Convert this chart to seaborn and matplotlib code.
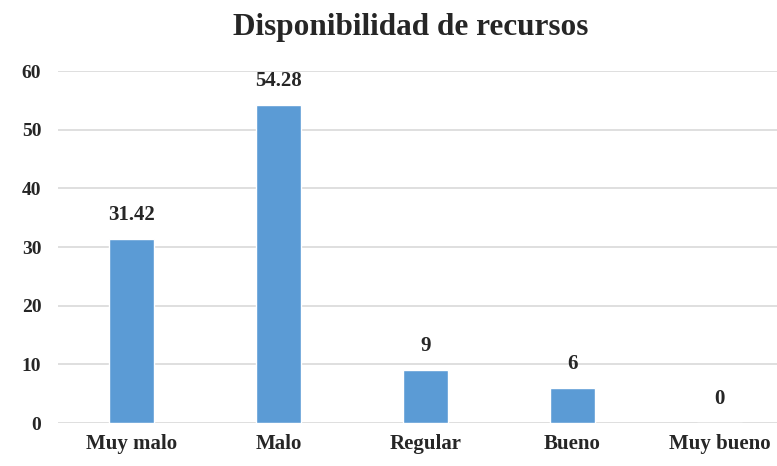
import matplotlib
matplotlib.use("Agg")
import matplotlib.pyplot as plt
import seaborn as sns
import pandas as pd

categorias = ["Muy malo", "Malo", "Regular", "Bueno", "Muy bueno"]
valores = [31.42, 54.28, 9, 6, 0]
etiquetas = ["31.42", "54.28", "9", "6", "0"]

sns.set_style("white")
plt.rcParams['font.family'] = ['Liberation Serif', 'DejaVu Serif']
plt.rcParams['font.weight'] = 'bold'

df = pd.DataFrame({"categoria": categorias, "valor": valores})

fig = plt.figure(figsize=(7.77, 4.66), dpi=100)
# the original image seems cropped on the right, so the axes run past the edge
ax = fig.add_axes([58 / 777, 1 - 423 / 466, 735 / 777, 352 / 466])
sns.barplot(data=df, x="categoria", y="valor", color="#5B9BD5", width=0.31,
            saturation=1, ax=ax, zorder=3)

ax.set_ylim(0, 60)
ax.set_yticks(range(0, 61, 10))
ax.yaxis.grid(True, color="#D9D9D9", linewidth=1.2, zorder=0)
ax.set_axisbelow(True)
sns.despine(ax=ax, left=True, bottom=True)
ax.tick_params(axis="x", length=0, labelsize=15, pad=8)
ax.tick_params(axis="y", length=0, labelsize=14, pad=12)
for lbl in ax.get_xticklabels() + ax.get_yticklabels():
    lbl.set_fontweight("bold")
ax.set_xlabel("")
ax.set_ylabel("")

ax.bar_label(ax.containers[0], labels=etiquetas, padding=10, fontsize=15,
             fontweight="bold")

fig.text(411 / 777, 1 - 28 / 466, "Disponibilidad de recursos", ha="center",
         va="center", fontsize=22.5, fontweight="bold")

fig.savefig("out.png", dpi=100)
